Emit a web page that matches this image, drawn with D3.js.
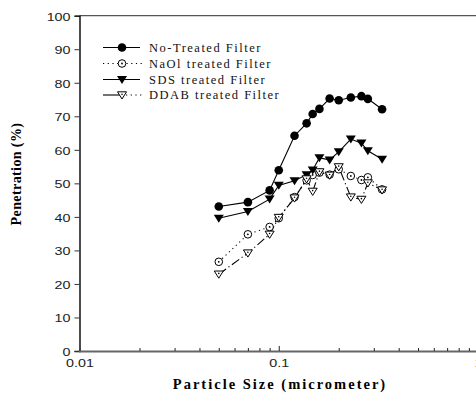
<!DOCTYPE html>
<html>
<head>
<meta charset="utf-8">
<script src="https://cdn.jsdelivr.net/npm/d3@7"></script>
<style>
  body { margin: 0; background: white; }
  svg { display: block; }
</style>
</head>
<body>
<div id="container"></div>
<script>
let w = 476;
let h = 399;

// DATA
let sizes = [0.05, 0.07, 0.09, 0.1, 0.12, 0.138, 0.148, 0.16, 0.18, 0.2, 0.23, 0.26, 0.28, 0.33];
let noTreated = [43.1, 44.4, 47.9, 53.9, 64.2, 67.9, 70.7, 72.2, 75.3, 74.8, 75.6, 76.0, 75.2, 72.1];
let naolTreated = [26.6, 34.8, 37.0, 39.6, 45.9, 50.9, 52.5, 53.2, 52.6, 54.2, 52.2, 51.0, 51.8, 48.2];
let sdsTreated = [39.6, 41.6, 45.3, 49.4, 50.8, 52.6, 54.0, 57.6, 57.0, 59.4, 63.2, 62.0, 59.7, 57.2];
let ddabTreated = [22.9, 29.2, 34.8, 39.8, 45.6, 51.3, 47.6, 53.4, 52.4, 54.9, 45.9, 45.2, 50.1, 48.0];
let yTicks = [0, 10, 20, 30, 40, 50, 60, 70, 80, 90, 100];
let xMajor = [0.01, 0.1, 1];
let seriesNames = ["No-Treated Filter", "NaOl treated Filter", "SDS treated Filter", "DDAB treated Filter"];

let viz = d3.select("#container").append("svg")
    .attr("width", w)
    .attr("height", h);

let x = d3.scaleLog().domain([0.01, 1]).range([79.5, 478]);
let y = d3.scaleLinear().domain([0, 100]).range([351, 15.7]);

// frame top line
viz.append("line")
  .attr("x1", x(0.01)).attr("x2", w)
  .attr("y1", y(100)).attr("y2", y(100))
  .attr("stroke", "#555").attr("stroke-width", 1.2);

// Y AXIS
let yAxis = d3.axisLeft(y).tickValues(yTicks).tickSize(5).tickFormat(d3.format("d"));
let gy = viz.append("g").attr("transform", "translate(" + x(0.01) + ",0)").call(yAxis);
gy.select(".domain").attr("stroke", "#000").attr("stroke-width", 1.4);
gy.selectAll(".tick line").attr("stroke", "#333");
gy.selectAll(".tick text")
  .attr("x", null).attr("dy", null)
  .attr("transform", "translate(-9,4.3) scale(1.3,1)")
  .attr("font-family", "Liberation Sans, Arial, sans-serif")
  .attr("font-size", 11)
  .attr("fill", "#222");

// X AXIS
let xTickVals = [];
[0.01, 0.1].forEach(function(b){
  for (let k = 1; k <= 9; k++) xTickVals.push(b * k);
});
xTickVals.push(1);
let xAxis = d3.axisBottom(x).tickValues(xTickVals).tickSize(-3)
  .tickFormat(function(d){
    let m = xMajor.find(function(v){ return Math.abs(d - v) < 1e-9; });
    return m === undefined ? "" : String(m);
  });
let gx = viz.append("g").attr("transform", "translate(0," + y(0) + ")").call(xAxis);
gx.select(".domain").attr("stroke", "#666").attr("stroke-width", 2);
gx.selectAll(".tick line").attr("stroke", "#222").attr("y2", function(d){
  return (Math.abs(d - 0.1) < 1e-9 || Math.abs(d - 1) < 1e-9) ? -5 : -3;
});
gx.selectAll(".tick text")
  .attr("y", null).attr("dy", null)
  .attr("transform", "translate(0,16) scale(1.3,1)")
  .attr("font-family", "Liberation Sans, Arial, sans-serif")
  .attr("font-size", 11)
  .attr("fill", "#222");

// AXIS TITLES
viz.append("text")
  .attr("x", 280).attr("y", 389)
  .attr("text-anchor", "middle")
  .attr("font-family", "Liberation Serif, Times New Roman, serif")
  .attr("font-weight", "bold")
  .attr("font-size", 14.5)
  .attr("letter-spacing", 2)
  .text("Particle Size (micrometer)");

viz.append("text")
  .attr("transform", "translate(21,174) rotate(-90)")
  .attr("text-anchor", "middle")
  .attr("font-family", "Liberation Serif, Times New Roman, serif")
  .attr("font-weight", "bold")
  .attr("font-size", 14)
  .attr("letter-spacing", 0.4)
  .text("Penetration (%)");

// SERIES
let allSeries = [
  {name: seriesNames[0], vals: noTreated, dash: null, marker: "circleFilled"},
  {name: seriesNames[1], vals: naolTreated, dash: "1.2,3.5", marker: "circleOpen"},
  {name: seriesNames[2], vals: sdsTreated, dash: null, marker: "triFilled"},
  {name: seriesNames[3], vals: ddabTreated, dash: "9,3,1.2,3", marker: "triOpen"}
];

let lineMaker = d3.line()
  .x(function(d){ return x(d[0]); })
  .y(function(d){ return y(d[1]); });

function drawMarker(g, type, cx, cy) {
  if (type === "circleFilled") {
    g.append("circle").attr("cx", cx).attr("cy", cy).attr("r", 4.3).attr("fill", "#000");
  } else if (type === "circleOpen") {
    g.append("circle").attr("cx", cx).attr("cy", cy).attr("r", 3.8)
      .attr("fill", "#fff").attr("stroke", "#000").attr("stroke-width", 1);
    g.append("circle").attr("cx", cx).attr("cy", cy).attr("r", 0.9).attr("fill", "#000");
  } else if (type === "triFilled") {
    g.append("path")
      .attr("d", "M" + (cx - 5) + "," + (cy - 3.5) + "L" + (cx + 5) + "," + (cy - 3.5) + "L" + cx + "," + (cy + 4.5) + "Z")
      .attr("fill", "#000");
  } else {
    g.append("path")
      .attr("d", "M" + (cx - 4.5) + "," + (cy - 3.2) + "L" + (cx + 4.5) + "," + (cy - 3.2) + "L" + cx + "," + (cy + 4) + "Z")
      .attr("fill", "#fff").attr("stroke", "#000").attr("stroke-width", 1);
    g.append("circle").attr("cx", cx).attr("cy", cy - 0.8).attr("r", 0.8).attr("fill", "#000");
  }
}

allSeries.forEach(function(s){
  let pts = sizes.map(function(xv, i){ return [xv, s.vals[i]]; });
  viz.append("path")
    .datum(pts)
    .attr("d", lineMaker)
    .attr("fill", "none")
    .attr("stroke", "#000")
    .attr("stroke-width", 1.1)
    .attr("stroke-dasharray", s.dash);
});

allSeries.forEach(function(s){
  let g = viz.append("g");
  sizes.forEach(function(xv, i){
    drawMarker(g, s.marker, x(xv), y(s.vals[i]));
  });
});

// LEGEND
let legY = [47.5, 63.5, 79.5, 95];
allSeries.forEach(function(s, i){
  let g = viz.append("g");
  let ly = legY[i];
  if (s.marker === "circleOpen") {
    g.append("line").attr("x1", 103).attr("x2", 142).attr("y1", ly).attr("y2", ly)
      .attr("stroke", "#000").attr("stroke-width", 1.1).attr("stroke-dasharray", "1.2,3.5");
  } else if (s.marker === "triOpen") {
    g.append("line").attr("x1", 103).attr("x2", 120).attr("y1", ly).attr("y2", ly)
      .attr("stroke", "#000").attr("stroke-width", 1.1);
    g.append("line").attr("x1", 126).attr("x2", 142).attr("y1", ly).attr("y2", ly)
      .attr("stroke", "#000").attr("stroke-width", 1.1).attr("stroke-dasharray", "1.2,3.5");
  } else {
    g.append("line").attr("x1", 103).attr("x2", 140).attr("y1", ly).attr("y2", ly)
      .attr("stroke", "#000").attr("stroke-width", 1.1);
  }
  drawMarker(g, s.marker, 122, ly);
  g.append("text")
    .attr("x", 149).attr("y", ly + 4)
    .attr("font-family", "Liberation Serif, Times New Roman, serif")
    .attr("font-size", 12.5)
    .attr("letter-spacing", 1.5)
    .attr("fill", "#111")
    .text(s.name);
});
</script>
</body>
</html>
